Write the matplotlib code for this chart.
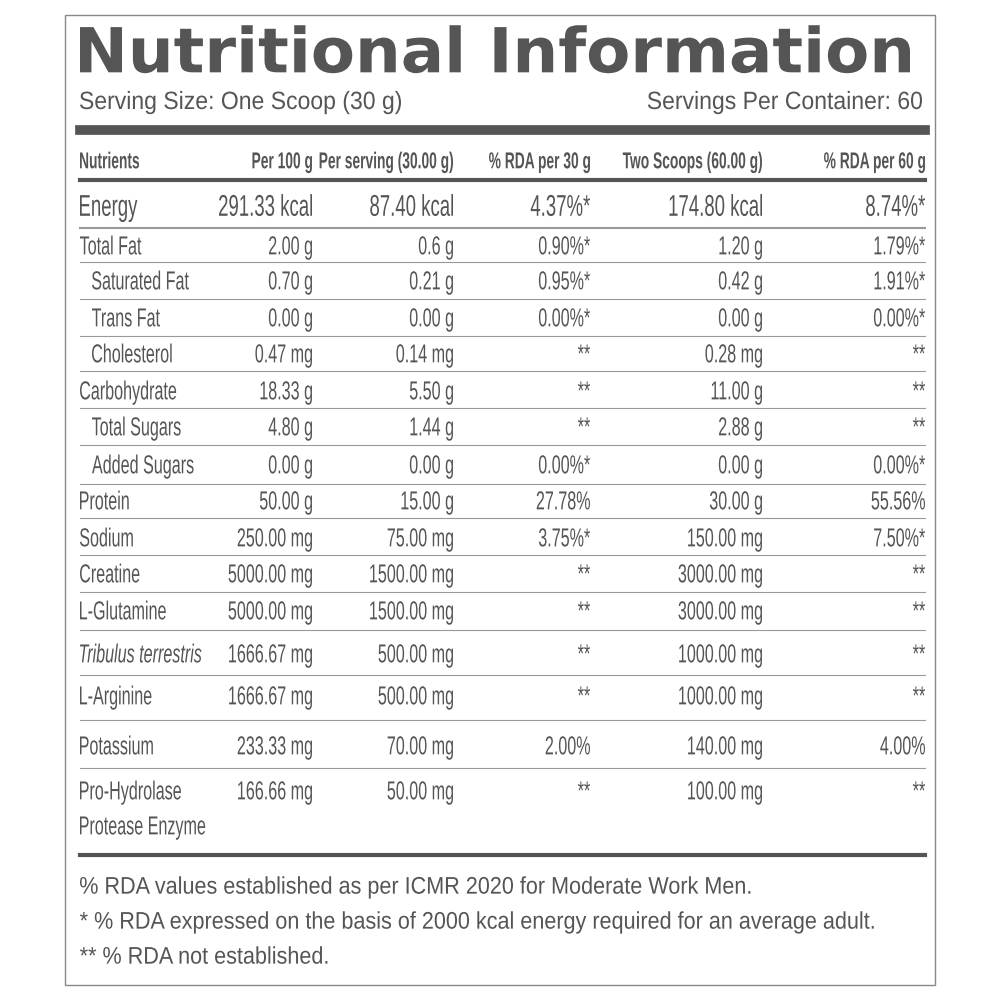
import matplotlib.pyplot as plt
from matplotlib.textpath import TextPath
from matplotlib.patches import PathPatch
from matplotlib.font_manager import FontProperties
from matplotlib.transforms import Affine2D

grey = '#555555'

headers = ['Nutrients', 'Per 100 g', 'Per serving (30.00 g)', '% RDA per 30 g',
           'Two Scoops (60.00 g)', '% RDA per 60 g']
nutrients = ['Energy', 'Total Fat', 'Saturated Fat', 'Trans Fat', 'Cholesterol',
             'Carbohydrate', 'Total Sugars', 'Added Sugars', 'Protein', 'Sodium',
             'Creatine', 'L-Glutamine', 'Tribulus terrestris', 'L-Arginine',
             'Potassium', 'Pro-Hydrolase\nProtease Enzyme']
indent = [0, 0, 1, 1, 1, 0, 1, 1, 0, 0, 0, 0, 0, 0, 0, 0]
per100 = ['291.33 kcal', '2.00 g', '0.70 g', '0.00 g', '0.47 mg', '18.33 g', '4.80 g',
          '0.00 g', '50.00 g', '250.00 mg', '5000.00 mg', '5000.00 mg', '1666.67 mg',
          '1666.67 mg', '233.33 mg', '166.66 mg']
per_serving = ['87.40 kcal', '0.6 g', '0.21 g', '0.00 g', '0.14 mg', '5.50 g', '1.44 g',
               '0.00 g', '15.00 g', '75.00 mg', '1500.00 mg', '1500.00 mg', '500.00 mg',
               '500.00 mg', '70.00 mg', '50.00 mg']
rda30 = ['4.37%*', '0.90%*', '0.95%*', '0.00%*', '**', '**', '**', '0.00%*', '27.78%',
         '3.75%*', '**', '**', '**', '**', '2.00%', '**']
two_scoops = ['174.80 kcal', '1.20 g', '0.42 g', '0.00 g', '0.28 mg', '11.00 g', '2.88 g',
              '0.00 g', '30.00 g', '150.00 mg', '3000.00 mg', '3000.00 mg', '1000.00 mg',
              '1000.00 mg', '140.00 mg', '100.00 mg']
rda60 = ['8.74%*', '1.79%*', '1.91%*', '0.00%*', '**', '**', '**', '0.00%*', '55.56%',
         '7.50%*', '**', '**', '**', '**', '4.00%', '**']
footnotes = ['% RDA values established as per ICMR 2020 for Moderate Work Men.',
             '* % RDA expressed on the basis of 2000 kcal energy required for an average adult.',
             '** % RDA not established.']

row_y = [205, 245, 280, 317, 353, 390, 426, 464, 500, 537, 573, 610, 653, 695, 745, 790]
sep_y = [228, 262, 299, 336, 371, 408, 445, 484, 518, 555, 592, 630, 675, 720, 768]
col_x = [312, 453, 590, 762, 925]

fig = plt.figure(figsize=(10, 10), dpi=100)
ax = fig.add_axes([0, 0, 1, 1])
ax.set_xlim(0, 1000)
ax.set_ylim(1000, 0)
ax.axis('off')


# condensed text drawn as a path, sizes in pixels
def ctext(x, y, s, size, ha='left', sx=0.62, weight='normal', style='normal',
          family='Liberation Sans', width=None):
    prop = FontProperties(family=family, weight=weight, style=style)
    tp = TextPath((0, 0), s, size=size, prop=prop)
    ext = tp.get_extents()
    if width is not None:
        sx = width / ext.width
    w = ext.width * sx
    if ha == 'right':
        x0 = x - ext.x1 * sx
    elif ha == 'center':
        x0 = x - ext.x0 * sx - w / 2
    else:
        x0 = x - ext.x0 * sx
    tr = Affine2D().scale(sx, -1).translate(x0, y + 0.36 * size)
    ax.add_patch(PathPatch(tr.transform_path(tp), fc=grey, ec='none'))


ax.add_patch(plt.Rectangle((65, 15), 870, 970, fill=False, ec='#888888', lw=1))
ctext(80, 50, 'Nutritional Information', 62, weight='bold', family='DejaVu Sans',
      width=830)
ctext(80, 100, 'Serving Size: One Scoop (30 g)', 25, sx=0.92)
ctext(922, 100, 'Servings Per Container: 60', 25, ha='right', sx=0.92)
ax.plot([80, 925], [130, 130], color=grey, lw=7)

ctext(80, 160, headers[0], 23, weight='bold', sx=0.6)
for x, h in zip(col_x, headers[1:]):
    ctext(x, 160, h, 23, ha='right', weight='bold', sx=0.6)
ax.plot([80, 925], [180, 180], color=grey, lw=3)

for i, name in enumerate(nutrients):
    y = row_y[i]
    style = 'italic' if name == 'Tribulus terrestris' else 'normal'
    fs = 30 if i == 0 else 26
    if '\n' in name:
        for k, part in enumerate(name.split('\n')):
            ctext(80, y + 35 * k, part, fs)
    else:
        ctext(80 + 12 * indent[i], y, name, fs, style=style)
    vals = [per100[i], per_serving[i], rda30[i], two_scoops[i], rda60[i]]
    for x, v in zip(col_x, vals):
        ctext(x, y, v, fs, ha='right')
for j, y in enumerate(sep_y):
    ax.plot([80, 925], [y, y], color='#999999', lw=1.5 if j == 0 else 0.8)
ax.plot([80, 925], [855, 855], color=grey, lw=3)

for k, f in enumerate(footnotes):
    ctext(80, 885 + 35 * k, f, 24, sx=0.9)

fig.savefig('out.png')
